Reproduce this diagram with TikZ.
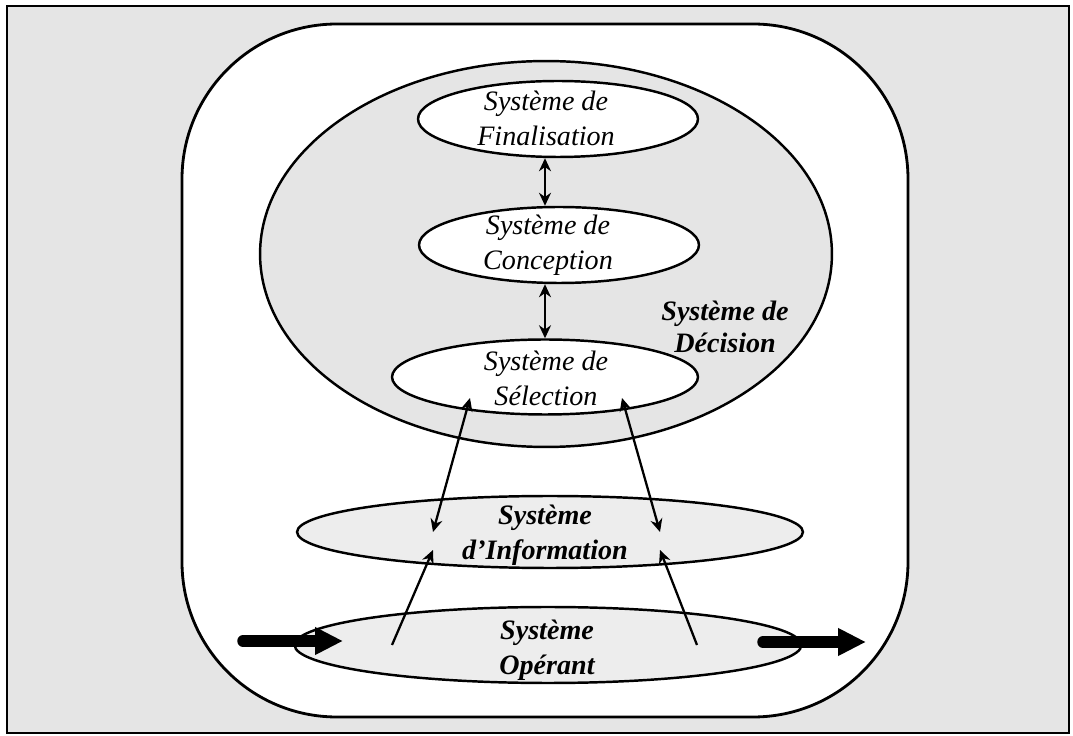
\documentclass[tikz,border=0pt]{standalone}
\usepackage{fontspec}
\setmainfont{Liberation Serif}
\usetikzlibrary{shapes.geometric,arrows.meta}
\definecolor{speck}{gray}{0.9}
\definecolor{speckl}{gray}{0.93}
\begin{document}
\begin{tikzpicture}[x=0.02cm,y=-0.02cm,
  ell/.style={ellipse,draw,line width=1.4pt,inner sep=0},
  lbl/.style={align=center,inner sep=0,font=\fontsize{16}{20}\selectfont\itshape},
  blbl/.style={align=center,inner sep=0,font=\fontsize{16}{20}\selectfont\bfseries\itshape},
  link/.style={line width=1.3pt,{Stealth[length=0.26cm,width=0.24cm]}-{Stealth[length=0.26cm,width=0.24cm]}},
  uplink/.style={line width=1.3pt,-{Stealth[length=0.26cm,width=0.24cm]}},
  flow/.style={line width=0.23cm,line cap=round,-{Triangle[length=0.56cm,width=0.52cm]}}
]
\useasboundingbox (0,0) rectangle (1073,736);
% frame and background
\draw[line width=1.2pt,fill=speck] (7,6) rectangle (1069,733);
\draw[line width=1.6pt,fill=white,rounded corners=3.1cm] (182,24) rectangle (908,717);
% decision system
\node[ell,fill=speck,minimum width=11.44cm,minimum height=7.72cm] (dec) at (546,254) {};
\node[ell,fill=white,minimum width=5.6cm,minimum height=1.52cm] (fin) at (558,119) {};
\node[ell,fill=white,minimum width=5.6cm,minimum height=1.52cm] (con) at (559,245) {};
\node[ell,fill=white,minimum width=6.12cm,minimum height=1.5cm] (sel) at (545,377) {};
\node[lbl] (tfin) at (546,118) {Système de\\Finalisation};
\node[lbl] (tcon) at (548,245) {Système de\\Conception};
\node[lbl] (tsel) at (546,378) {Système de\\Sélection};
\node[blbl,font=\fontsize{16}{18.3}\selectfont\bfseries\itshape] (tdec) at (725,327) {Système de\\Décision};
% information and operating systems
\node[ell,fill=speckl,minimum width=10.12cm,minimum height=1.44cm] (inf) at (550,532) {};
\node[ell,fill=speckl,minimum width=10.14cm,minimum height=1.52cm] (ope) at (548,645) {};
\node[blbl] (tinf) at (545,535) {Système\\d’Information};
\node[blbl] (tope) at (547,650) {Système\\Opérant};
% connectors inside decision system
\draw[link] (fin.south -| sel.north) -- (con.north -| sel.north);
\draw[link] (con.south -| sel.north) -- (sel.north);
% named connector ends
\coordinate (sl) at (470,398);
\coordinate (sr) at (622,398);
\coordinate (il) at (433,532);
\coordinate (ir) at (660,532);
\coordinate (iul) at (433,550);
\coordinate (iur) at (660,550);
\coordinate (ol) at (392,645);
\coordinate (or) at (697,645);
\coordinate (inl) at (243,641);
\coordinate (inr) at (343,641);
\coordinate (outl) at (763,642);
\coordinate (outr) at (866,642);
\draw[link] (sl) -- (il);
\draw[link] (sr) -- (ir);
\draw[uplink] (ol) -- (iul);
\draw[uplink] (or) -- (iur);
\draw[flow] (inl) -- (inr);
\draw[flow] (outl) -- (outr);
\end{tikzpicture}
\end{document}
